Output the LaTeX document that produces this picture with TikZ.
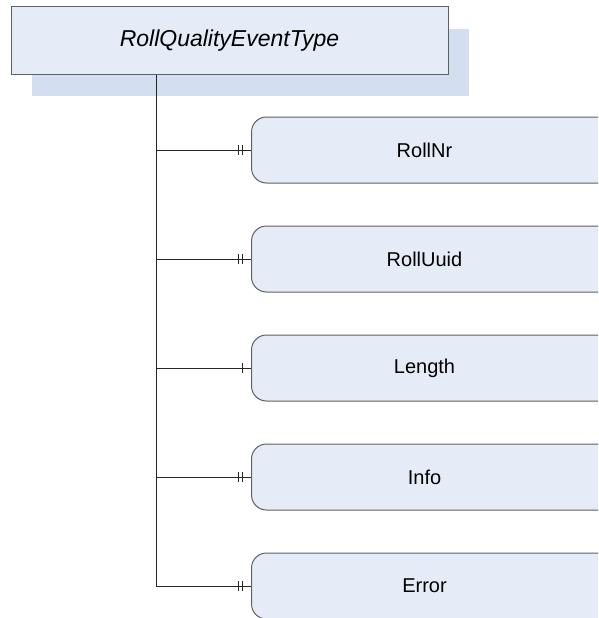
\documentclass[tikz,border=0pt]{standalone}
\usepackage{fontspec}
\setmainfont{Liberation Sans}
\usetikzlibrary{positioning}
\definecolor{boxfill}{RGB}{230,236,247}
\definecolor{shadowfill}{RGB}{211,223,240}
\definecolor{boxline}{RGB}{96,96,96}
\begin{document}
\begin{tikzpicture}[x=1pt,y=-1pt,node distance=42pt]
	\tikzstyle{every node}=[font=\fontsize{20}{24}\selectfont, inner sep=0pt]
	\tikzstyle{typebox}=[draw=boxline, fill=boxfill, line width=1pt, minimum width=437pt, minimum height=67pt, font=\fontsize{23}{27}\selectfont\itshape]
	\tikzstyle{attrbox}=[draw=boxline, fill=boxfill, line width=1pt, rounded corners=15pt, minimum width=370pt, minimum height=66pt]
	\tikzstyle{link}=[line width=0.9pt, draw=black!85]
	
	\useasboundingbox (0,0) rectangle (598,618);
	\clip (0,0) rectangle (598,618);
	
	% type with its shadow
	\fill[shadowfill] (32,29) rectangle (469,96);
	\node[typebox] at (229.5,40.5) (type) {RollQualityEventType};
	
	% attributes
	\node[attrbox, anchor=west] at (251,150) (rollnr) {RollNr\hspace*{24pt}};
	\node[attrbox, below=of rollnr] (rolluuid) {RollUuid\hspace*{24pt}};
	\node[attrbox, below=of rolluuid] (length) {Length\hspace*{24pt}};
	\node[attrbox, below=of length] (info) {Info\hspace*{24pt}};
	\node[attrbox, below=of info] (error) {Error\hspace*{24pt}};
	
	\coordinate (trunk) at ([xshift=-73.5pt]type.south);
	\draw[link] (trunk) -- (trunk |- error.west);
	
	\foreach \n/\k in {rollnr/2, rolluuid/2, length/1, info/2, error/2}{
		\draw[link] (trunk |- \n.west) -- (\n.west);
		\draw[link] ([xshift=-9pt]\n.west) ++(0,-5) -- ++(0,10);
		\ifnum\k=2
			\draw[link] ([xshift=-13pt]\n.west) ++(0,-5) -- ++(0,10);
		\fi
	}
	
\end{tikzpicture}
\end{document}
